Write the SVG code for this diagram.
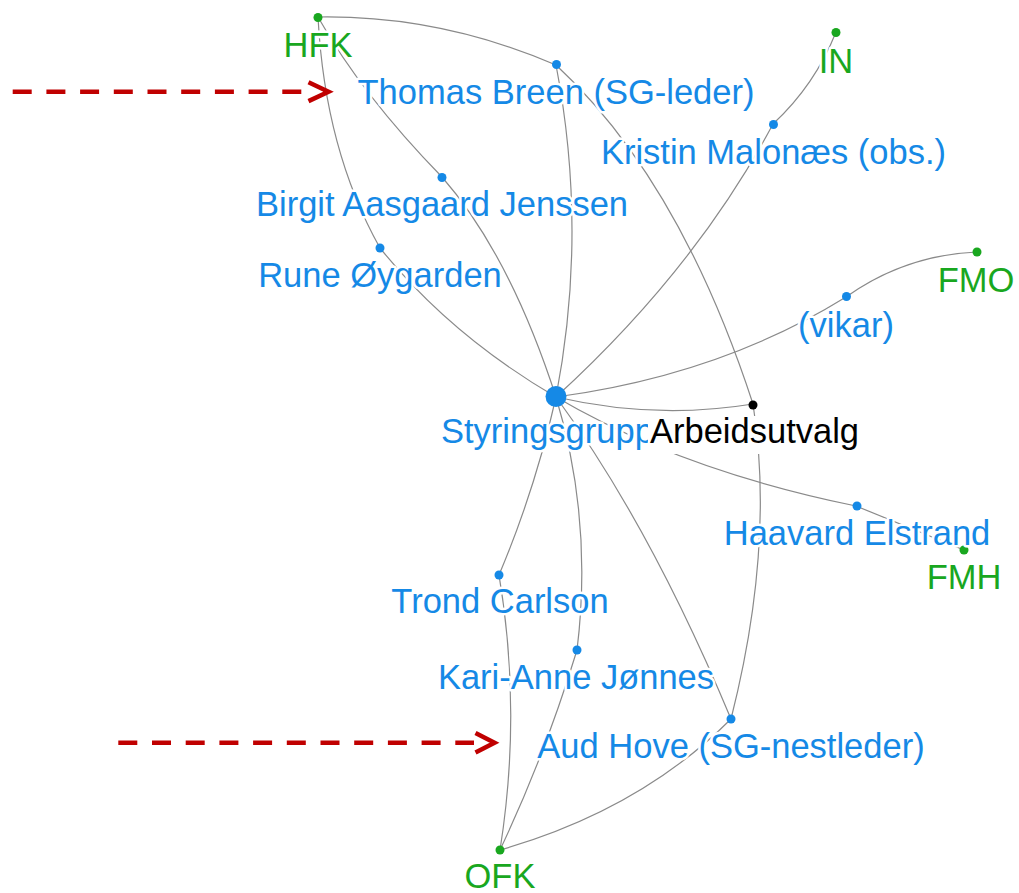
<svg xmlns="http://www.w3.org/2000/svg" width="1019" height="893" viewBox="0 0 1019 893">
<style>
.e{fill:none;stroke:#8a8a8a;stroke-width:1.2}
.lbl{font-family:"Liberation Sans",Arial,sans-serif;font-size:34.5px;text-anchor:middle;paint-order:stroke;stroke:#fff;stroke-width:5;stroke-linejoin:round}
.b{fill:#1589e6}
.g{fill:#19a71f}
.k{fill:#000}
.arr{fill:none;stroke:#c00000;stroke-width:4.5}
.dash{stroke-dasharray:19 14.7}
</style>
<rect width="1019" height="893" fill="#fff"/>
<g id="connectors">
<path class="e" d="M318,17 Q440,15 556,65"/>
<path class="e" d="M318,17 Q362,95 442,177"/>
<path class="e" d="M318,17 Q325,150 380,248"/>
<path class="e" d="M442,177 Q510,255 556,397"/>
<path class="e" d="M380,248 Q450,335 556,397"/>
<path class="e" d="M556,65 Q588,231 556,397"/>
<path class="e" d="M556,65 Q680,180 753,404"/>
<path class="e" d="M836,32 Q815,85 773,124"/>
<path class="e" d="M773,124 Q695,270 556,397"/>
<path class="e" d="M977,252 Q905,255 846,297"/>
<path class="e" d="M846,297 Q720,375 556,397"/>
<path class="e" d="M556,397 Q655,420 753,404"/>
<path class="e" d="M556,397 Q680,470 856,506"/>
<path class="e" d="M856,506 L964,550"/>
<path class="e" d="M753,404 Q775,545 731,719"/>
<path class="e" d="M556,397 Q535,490 499,575"/>
<path class="e" d="M556,397 Q593,520 577,650"/>
<path class="e" d="M556,397 Q650,525 731,719"/>
<path class="e" d="M499,575 Q522,712 500,850"/>
<path class="e" d="M577,650 Q545,755 500,850"/>
<path class="e" d="M500,850 Q640,810 731,719"/>
</g>
<g id="arrows">
<path class="arr dash" d="M12.7,91.7 H302"/>
<polyline class="arr" points="308.5,82.3 328.5,91.7 308.5,101.1" stroke-width="5"/>
<path class="arr dash" d="M118.3,742.7 H474"/>
<polyline class="arr" points="475.5,733 494.5,742.7 475.5,752.4" stroke-width="5"/>
</g>
<g id="node-HFK"><circle class="g" cx="318" cy="17.5" r="4.5"/><text class="lbl g" x="318" y="57">HFK</text></g>
<g id="node-IN"><circle class="g" cx="836" cy="32.5" r="4.5"/><text class="lbl g" x="836" y="73">IN</text></g>
<g id="node-FMO"><circle class="g" cx="977" cy="252" r="4.5"/><text class="lbl g" x="976" y="292">FMO</text></g>
<g id="node-FMH"><circle class="g" cx="964" cy="550" r="4.5"/></g>
<g id="node-OFK"><circle class="g" cx="500" cy="850" r="4.5"/><text class="lbl g" x="500" y="888">OFK</text></g>
<g id="node-thomas"><circle class="b" cx="556.5" cy="64.5" r="4.5"/><text class="lbl b" x="556" y="104">Thomas Breen (SG-leder)</text></g>
<g id="node-kristin"><circle class="b" cx="773.5" cy="124.5" r="4.5"/><text class="lbl b" x="773.5" y="163.5">Kristin Malonæs (obs.)</text></g>
<g id="node-birgit"><circle class="b" cx="442" cy="177.5" r="4.5"/><text class="lbl b" x="442" y="216">Birgit Aasgaard Jenssen</text></g>
<g id="node-rune"><circle class="b" cx="380" cy="248" r="4.5"/><text class="lbl b" x="380" y="287">Rune Øygarden</text></g>
<g id="node-vikar"><circle class="b" cx="846.5" cy="296.5" r="4.5"/><text class="lbl b" x="846" y="337">(vikar)</text></g>
<g id="node-haavard"><circle class="b" cx="857" cy="506" r="4.5"/><text class="lbl b" x="857" y="545">Haavard Elstrand</text></g>
<g id="node-FMH-label"><text class="lbl g" x="964" y="588.5">FMH</text></g>
<g id="node-trond"><circle class="b" cx="499" cy="575" r="4.5"/><text class="lbl b" x="500" y="613">Trond Carlson</text></g>
<g id="node-kari"><circle class="b" cx="577" cy="650" r="4.5"/><text class="lbl b" x="576" y="689">Kari-Anne Jønnes</text></g>
<g id="node-aud"><circle class="b" cx="731" cy="719" r="4.5"/><text class="lbl b" x="731" y="758">Aud Hove (SG-nestleder)</text></g>
<g id="node-styringsgruppe"><circle class="b" cx="556" cy="396.5" r="10.5"/><text class="lbl b" x="557" y="443">Styringsgruppe</text></g>
<g id="node-arbeidsutvalg"><circle class="k" cx="753" cy="405" r="4.5"/><rect x="648" y="416" width="214" height="38" fill="#fff"/><text class="lbl k" x="754.5" y="443">Arbeidsutvalg</text></g>
</svg>
